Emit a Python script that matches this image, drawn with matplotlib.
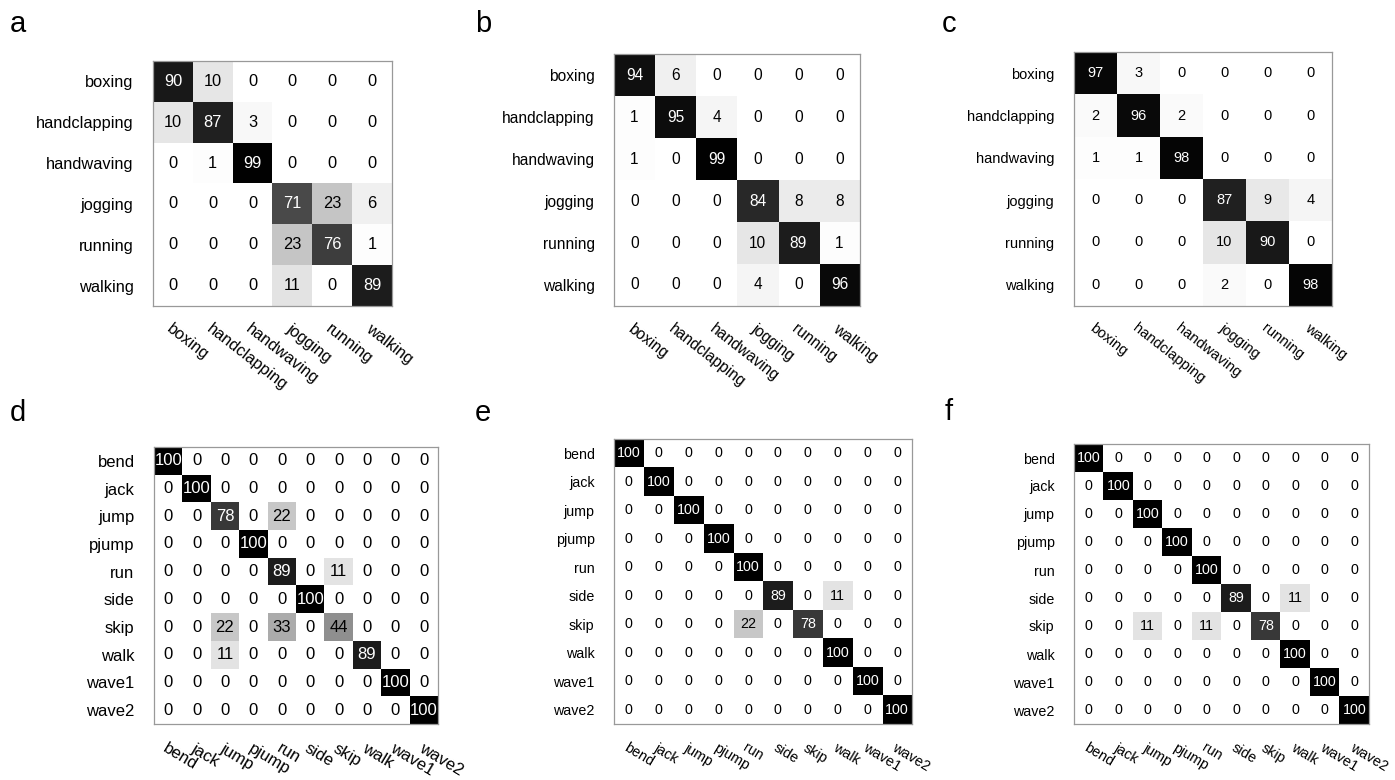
import numpy as np
import matplotlib
matplotlib.use("Agg")
import matplotlib.pyplot as plt

plt.rcParams['font.family'] = ['Liberation Sans', 'DejaVu Sans']

# class names
kth_labels = ['boxing', 'handclapping', 'handwaving', 'jogging', 'running', 'walking']
weiz_labels = ['bend', 'jack', 'jump', 'pjump', 'run', 'side', 'skip', 'walk', 'wave1', 'wave2']

# confusion matrices (percent)
cm_a = [[90, 10, 0, 0, 0, 0],
        [10, 87, 3, 0, 0, 0],
        [0, 1, 99, 0, 0, 0],
        [0, 0, 0, 71, 23, 6],
        [0, 0, 0, 23, 76, 1],
        [0, 0, 0, 11, 0, 89]]

cm_b = [[94, 6, 0, 0, 0, 0],
        [1, 95, 4, 0, 0, 0],
        [1, 0, 99, 0, 0, 0],
        [0, 0, 0, 84, 8, 8],
        [0, 0, 0, 10, 89, 1],
        [0, 0, 0, 4, 0, 96]]

cm_c = [[97, 3, 0, 0, 0, 0],
        [2, 96, 2, 0, 0, 0],
        [1, 1, 98, 0, 0, 0],
        [0, 0, 0, 87, 9, 4],
        [0, 0, 0, 10, 90, 0],
        [0, 0, 0, 2, 0, 98]]

cm_d = [[100, 0, 0, 0, 0, 0, 0, 0, 0, 0],
        [0, 100, 0, 0, 0, 0, 0, 0, 0, 0],
        [0, 0, 78, 0, 22, 0, 0, 0, 0, 0],
        [0, 0, 0, 100, 0, 0, 0, 0, 0, 0],
        [0, 0, 0, 0, 89, 0, 11, 0, 0, 0],
        [0, 0, 0, 0, 0, 100, 0, 0, 0, 0],
        [0, 0, 22, 0, 33, 0, 44, 0, 0, 0],
        [0, 0, 11, 0, 0, 0, 0, 89, 0, 0],
        [0, 0, 0, 0, 0, 0, 0, 0, 100, 0],
        [0, 0, 0, 0, 0, 0, 0, 0, 0, 100]]

cm_e = [[100, 0, 0, 0, 0, 0, 0, 0, 0, 0],
        [0, 100, 0, 0, 0, 0, 0, 0, 0, 0],
        [0, 0, 100, 0, 0, 0, 0, 0, 0, 0],
        [0, 0, 0, 100, 0, 0, 0, 0, 0, 0],
        [0, 0, 0, 0, 100, 0, 0, 0, 0, 0],
        [0, 0, 0, 0, 0, 89, 0, 11, 0, 0],
        [0, 0, 0, 0, 22, 0, 78, 0, 0, 0],
        [0, 0, 0, 0, 0, 0, 0, 100, 0, 0],
        [0, 0, 0, 0, 0, 0, 0, 0, 100, 0],
        [0, 0, 0, 0, 0, 0, 0, 0, 0, 100]]

cm_f = [[100, 0, 0, 0, 0, 0, 0, 0, 0, 0],
        [0, 100, 0, 0, 0, 0, 0, 0, 0, 0],
        [0, 0, 100, 0, 0, 0, 0, 0, 0, 0],
        [0, 0, 0, 100, 0, 0, 0, 0, 0, 0],
        [0, 0, 0, 0, 100, 0, 0, 0, 0, 0],
        [0, 0, 0, 0, 0, 89, 0, 11, 0, 0],
        [0, 0, 11, 0, 11, 0, 78, 0, 0, 0],
        [0, 0, 0, 0, 0, 0, 0, 100, 0, 0],
        [0, 0, 0, 0, 0, 0, 0, 0, 100, 0],
        [0, 0, 0, 0, 0, 0, 0, 0, 0, 100]]

W, H = 1395, 780
fig = plt.figure(figsize=(W / 100, H / 100), dpi=100)

# panel: (letter, matrix, labels, box px (x, top, w, h), letter px (x, baseline), fontsize, label pad, rotation)
panels = [
    ('a', cm_a, kth_labels, (153, 61, 239, 245), (10, 32), 11.8, 11, -38),
    ('b', cm_b, kth_labels, (614, 54, 246, 252), (475, 32), 11.2, 11, -38),
    ('c', cm_c, kth_labels, (1074, 52, 258, 254), (942, 32), 10.5, 11, -38),
    ('d', cm_d, weiz_labels, (154, 447, 284, 277), (10, 421), 12, 12, -31),
    ('e', cm_e, weiz_labels, (614, 439, 298, 285), (475, 421), 10.3, 12, -31),
    ('f', cm_f, weiz_labels, (1074, 444, 295, 280), (945, 420), 10.3, 12, -31),
]

for letter, cm, labels, box, lpos, fs, pad, rot in panels:
    x, top, w, h = box
    ax = fig.add_axes([x / W, 1 - (top + h) / H, w / W, h / H])
    m = np.array(cm)
    n = len(labels)
    ax.imshow(m, cmap='gray_r', vmin=0, vmax=100, aspect='auto', interpolation='nearest')
    for i in range(n):
        for j in range(n):
            v = m[i, j]
            ax.text(j, i, str(v), ha='center', va='center', fontsize=fs,
                    color='white' if v > 50 else 'black')
    ax.set_xticks(range(n))
    ax.set_yticks(range(n))
    ax.set_yticklabels(labels, fontsize=fs)
    ax.set_xticklabels(labels, fontsize=fs, rotation=rot, ha='left',
                       rotation_mode='anchor')
    ax.tick_params(length=0, pad=pad)
    ax.tick_params(axis='y', pad=14)
    for s in ax.spines.values():
        s.set_color('#999999')
        s.set_linewidth(0.9)
    fig.text(lpos[0] / W, 1 - lpos[1] / H, letter, fontsize=21, va='baseline', ha='left')

fig.savefig('out.png', dpi=100)
